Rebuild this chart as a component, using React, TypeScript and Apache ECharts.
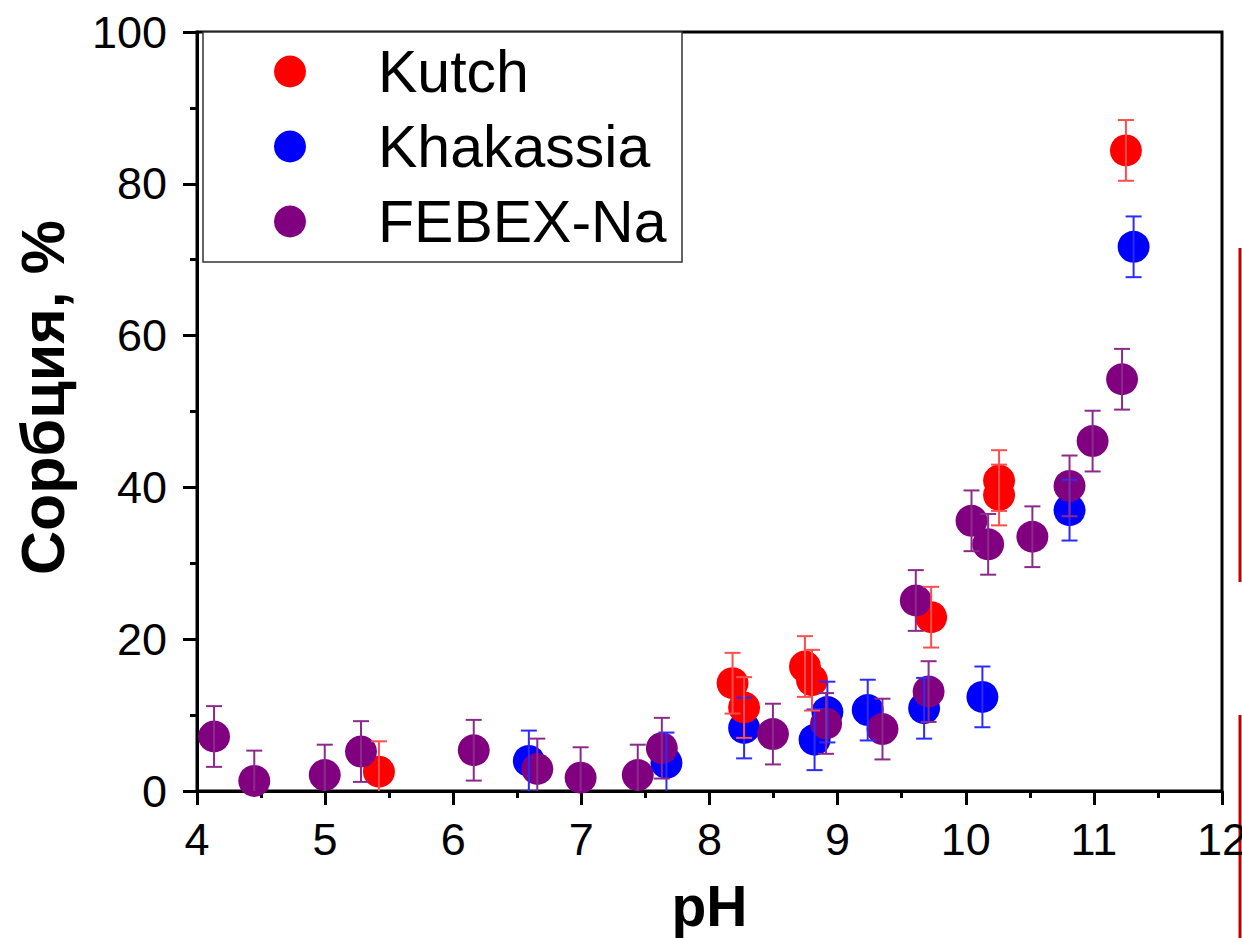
import React, { useEffect, useRef } from "react";
import * as echarts from "echarts";

const seriesNames = ["Kutch", "Khakassia", "FEBEX-Na"];
const seriesColors = ["#ff0000", "#0000ff", "#800080"];
const errorColors = ["#ff4d4d", "#2b2bff", "#8c2a8c"];

const kutchX = [5.42, 8.18, 8.27, 8.745, 8.8, 9.73, 10.26, 10.26, 11.25];
const kutchY = [2.55, 14.2, 11.0, 16.4, 14.6, 22.9, 40.9, 39.0, 84.4];
const kutchErr = [4, 4, 4, 4, 4, 4, 4, 4, 4];

const khakX = [6.59, 7.664, 8.27, 8.82, 8.92, 9.235, 9.675, 10.13, 10.81, 11.31];
const khakY = [3.96, 3.7, 8.3, 6.75, 10.4, 10.66, 10.9, 12.4, 37.0, 71.7];
const khakErr = [4, 4, 4, 4, 4, 4, 4, 4, 4, 4];

const febexX = [4.133, 4.447, 4.997, 5.28, 6.16, 6.656, 6.994, 7.44, 7.628, 8.495, 8.91, 9.35, 9.61, 9.71, 10.045, 10.175, 10.52, 10.81, 10.99, 11.22];
const febexY = [7.18, 1.32, 2.1, 5.2, 5.37, 2.9, 1.76, 2.1, 5.64, 7.5, 8.9, 8.16, 25.1, 13.1, 35.6, 32.5, 33.5, 40.2, 46.1, 54.25];
const febexErr = [4, 4, 4, 4, 4, 4, 4, 4, 4, 4, 4, 4, 4, 4, 4, 4, 4, 4, 4, 4];

const xTicks = { min: 4, max: 12, interval: 1 };
const yTicks = { min: 0, max: 100, interval: 20 };

const FONT = "'Liberation Sans', Arial, sans-serif";

function build(xs: number[], ys: number[], es: number[]) {
  return xs.map((x, i) => [x, ys[i], es[i]]);
}

export default function App() {
  const ref = useRef<HTMLDivElement>(null);
  useEffect(() => {
    if (!ref.current) return;
    const chart = echarts.init(ref.current, null, { renderer: "svg" });
    const sets = [
      build(kutchX, kutchY, kutchErr),
      build(khakX, khakY, khakErr),
      build(febexX, febexY, febexErr),
    ];
    // draw order: blue, red, purple
    const order = [1, 0, 2];
    const scatterSeries = order.map((k) => ({
      type: "scatter",
      name: seriesNames[k],
      data: sets[k].map((d) => [d[0], d[1]]),
      symbol: "circle",
      symbolSize: 32,
      itemStyle: { color: seriesColors[k], opacity: 1 },
      z: 2,
    }));
    const errSeries = order.map((k) => ({
      type: "custom",
      name: seriesNames[k] + " error",
      data: sets[k],
      encode: { x: 0, y: 1 },
      clip: true,
      z: 3,
      renderItem: (params: any, api: any) => {
        const x = api.value(0);
        const y = api.value(1);
        const e = api.value(2);
        const top = api.coord([x, y + e]);
        const bot = api.coord([x, y - e]);
        const hw = 8;
        const st = { stroke: errorColors[k], lineWidth: 2 };
        return {
          type: "group",
          children: [
            { type: "line", shape: { x1: top[0], y1: top[1], x2: bot[0], y2: bot[1] }, style: st },
            { type: "line", shape: { x1: top[0] - hw, y1: top[1], x2: top[0] + hw, y2: top[1] }, style: st },
            { type: "line", shape: { x1: bot[0] - hw, y1: bot[1], x2: bot[0] + hw, y2: bot[1] }, style: st },
          ],
        };
      },
    }));

    chart.setOption({
      animation: false,
      backgroundColor: "#ffffff",
      textStyle: { fontFamily: FONT },
      grid: {
        left: 197,
        right: 20,
        top: 32,
        bottom: 147,
        show: true,
        borderColor: "#000",
        borderWidth: 3,
        containLabel: false,
        outerBoundsMode: "none",
      },
      legend: {
        data: seriesNames,
        orient: "vertical",
        left: 274,
        top: 42,
        padding: 0,
        icon: "circle",
        itemWidth: 166,
        itemHeight: 32,
        itemGap: 16,
        selectedMode: false,
        textStyle: { fontSize: 59, color: "#000", fontFamily: FONT, lineHeight: 59 },
      },
      xAxis: {
        type: "value",
        min: xTicks.min,
        max: xTicks.max,
        interval: xTicks.interval,
        name: "pH",
        nameLocation: "middle",
        nameGap: 86,
        nameTextStyle: { fontSize: 57, fontWeight: "bold", color: "#000", fontFamily: FONT },
        axisLine: { lineStyle: { color: "#000", width: 3 } },
        axisTick: { show: true, inside: false, length: 14, lineStyle: { color: "#000", width: 3 } },
        minorTick: { show: true, splitNumber: 2, length: 7, lineStyle: { color: "#000", width: 3 } },
        axisLabel: { fontSize: 45, color: "#000", margin: 26, fontFamily: FONT },
        splitLine: { show: false },
      },
      yAxis: {
        type: "value",
        min: yTicks.min,
        max: yTicks.max,
        interval: yTicks.interval,
        name: "Сорбция, %",
        nameLocation: "middle",
        nameGap: 124,
        nameTextStyle: {
          fontSize: 61,
          fontWeight: "bold",
          color: "#000",
          fontFamily: FONT,
          padding: [0, 0, 0, 28],
        },
        axisLine: { lineStyle: { color: "#000", width: 3 } },
        axisTick: { show: true, inside: false, length: 14, lineStyle: { color: "#000", width: 3 } },
        minorTick: { show: true, splitNumber: 2, length: 7, lineStyle: { color: "#000", width: 3 } },
        axisLabel: { fontSize: 45, color: "#000", margin: 30, fontFamily: FONT },
        splitLine: { show: false },
      },
      graphic: [
        {
          type: "rect",
          shape: { x: 203, y: 32, width: 479, height: 230 },
          style: { fill: "#fff", stroke: "#333", lineWidth: 1.5 },
          z: 1,
        },
        {
          type: "line",
          shape: { x1: 1240, y1: 248, x2: 1240, y2: 582 },
          style: { stroke: "#c00000", lineWidth: 3 },
        },
        {
          type: "line",
          shape: { x1: 1240, y1: 715, x2: 1240, y2: 938 },
          style: { stroke: "#c00000", lineWidth: 3 },
        },
      ],
      series: [...scatterSeries, ...errSeries],
    });
    return () => chart.dispose();
  }, []);
  return <div ref={ref} style={{ position: "absolute", left: 0, top: 0, width: 1242, height: 938 }} />;
}
